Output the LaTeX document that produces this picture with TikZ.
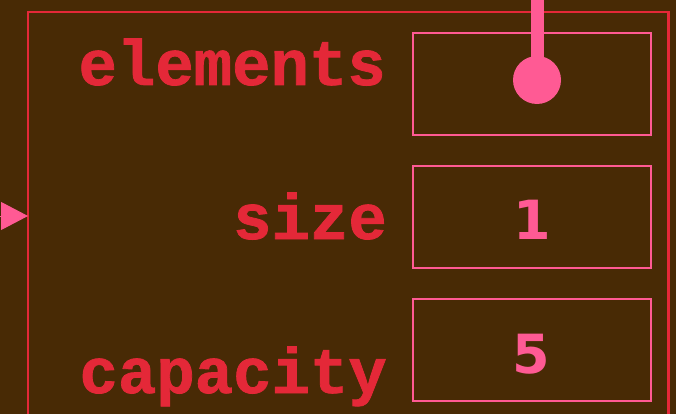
\documentclass[tikz,border=0pt]{standalone}
\usepackage{fontspec}
\usetikzlibrary{arrows.meta}
\newfontfamily\labelfont[BoldFeatures={FakeBold=1.2}]{Liberation Mono}
\newfontfamily\valuefont{DejaVu Sans}
\definecolor{bgbrown}{RGB}{72,42,5}
\definecolor{fieldred}{RGB}{228,40,56}
\definecolor{valpink}{RGB}{255,90,148}
\tikzset{
  field/.style={font=\labelfont\bfseries\fontsize{64}{64}\selectfont, text=fieldred, anchor=base east, inner sep=0pt},
  slot/.style={draw=valpink, line width=2pt, minimum width=238pt, minimum height=102pt, inner sep=0pt},
  value/.style={font=\valuefont\bfseries\fontsize{54}{54}\selectfont, text=valpink, anchor=base, inner sep=0pt},
}
\begin{document}
\begin{tikzpicture}[x=1pt,y=-1pt]
\useasboundingbox (0,0) rectangle (676,414);
\fill[bgbrown] (0,0) rectangle (676,414);
\clip (0,0) rectangle (676,414);

% struct frame
\coordinate (frameNW) at (28,12);
\coordinate (frameSE) at (668.5,440);
\draw[fieldred, line width=2.2pt] (frameNW) rectangle (frameSE);
\coordinate (frameW) at (28,216);

% field slots
\node[slot] (elemslot) at (531.7,83.7) {};
\node[slot] (sizeslot) at (532,217) {};
\node[slot] (capslot) at (531.7,350) {};

% field names
\node[field] (elemlbl) at (386,85) {elements};
\node[field] (sizelbl) at (387,239) {size};
\node[field] (caplbl) at (387,393) {capacity};

% field values
\node[value] (sizeval) at (532,239) {1};
\node[value] (capval) at (531.5,373) {5};

% pointer held in elements
\node[circle, fill=valpink, minimum size=48pt, inner sep=0pt] (ptrdot) at (537,80) {};
\coordinate (ptrtop) at (537,-10);
\draw[valpink, line width=13pt] (ptrtop) -- (ptrdot.center);

% incoming reference
\coordinate (refsrc) at (-60,216);
\draw[valpink, line width=1pt, -{Triangle[length=27pt,width=28pt]}] (refsrc) -- (frameW);
\end{tikzpicture}
\end{document}
